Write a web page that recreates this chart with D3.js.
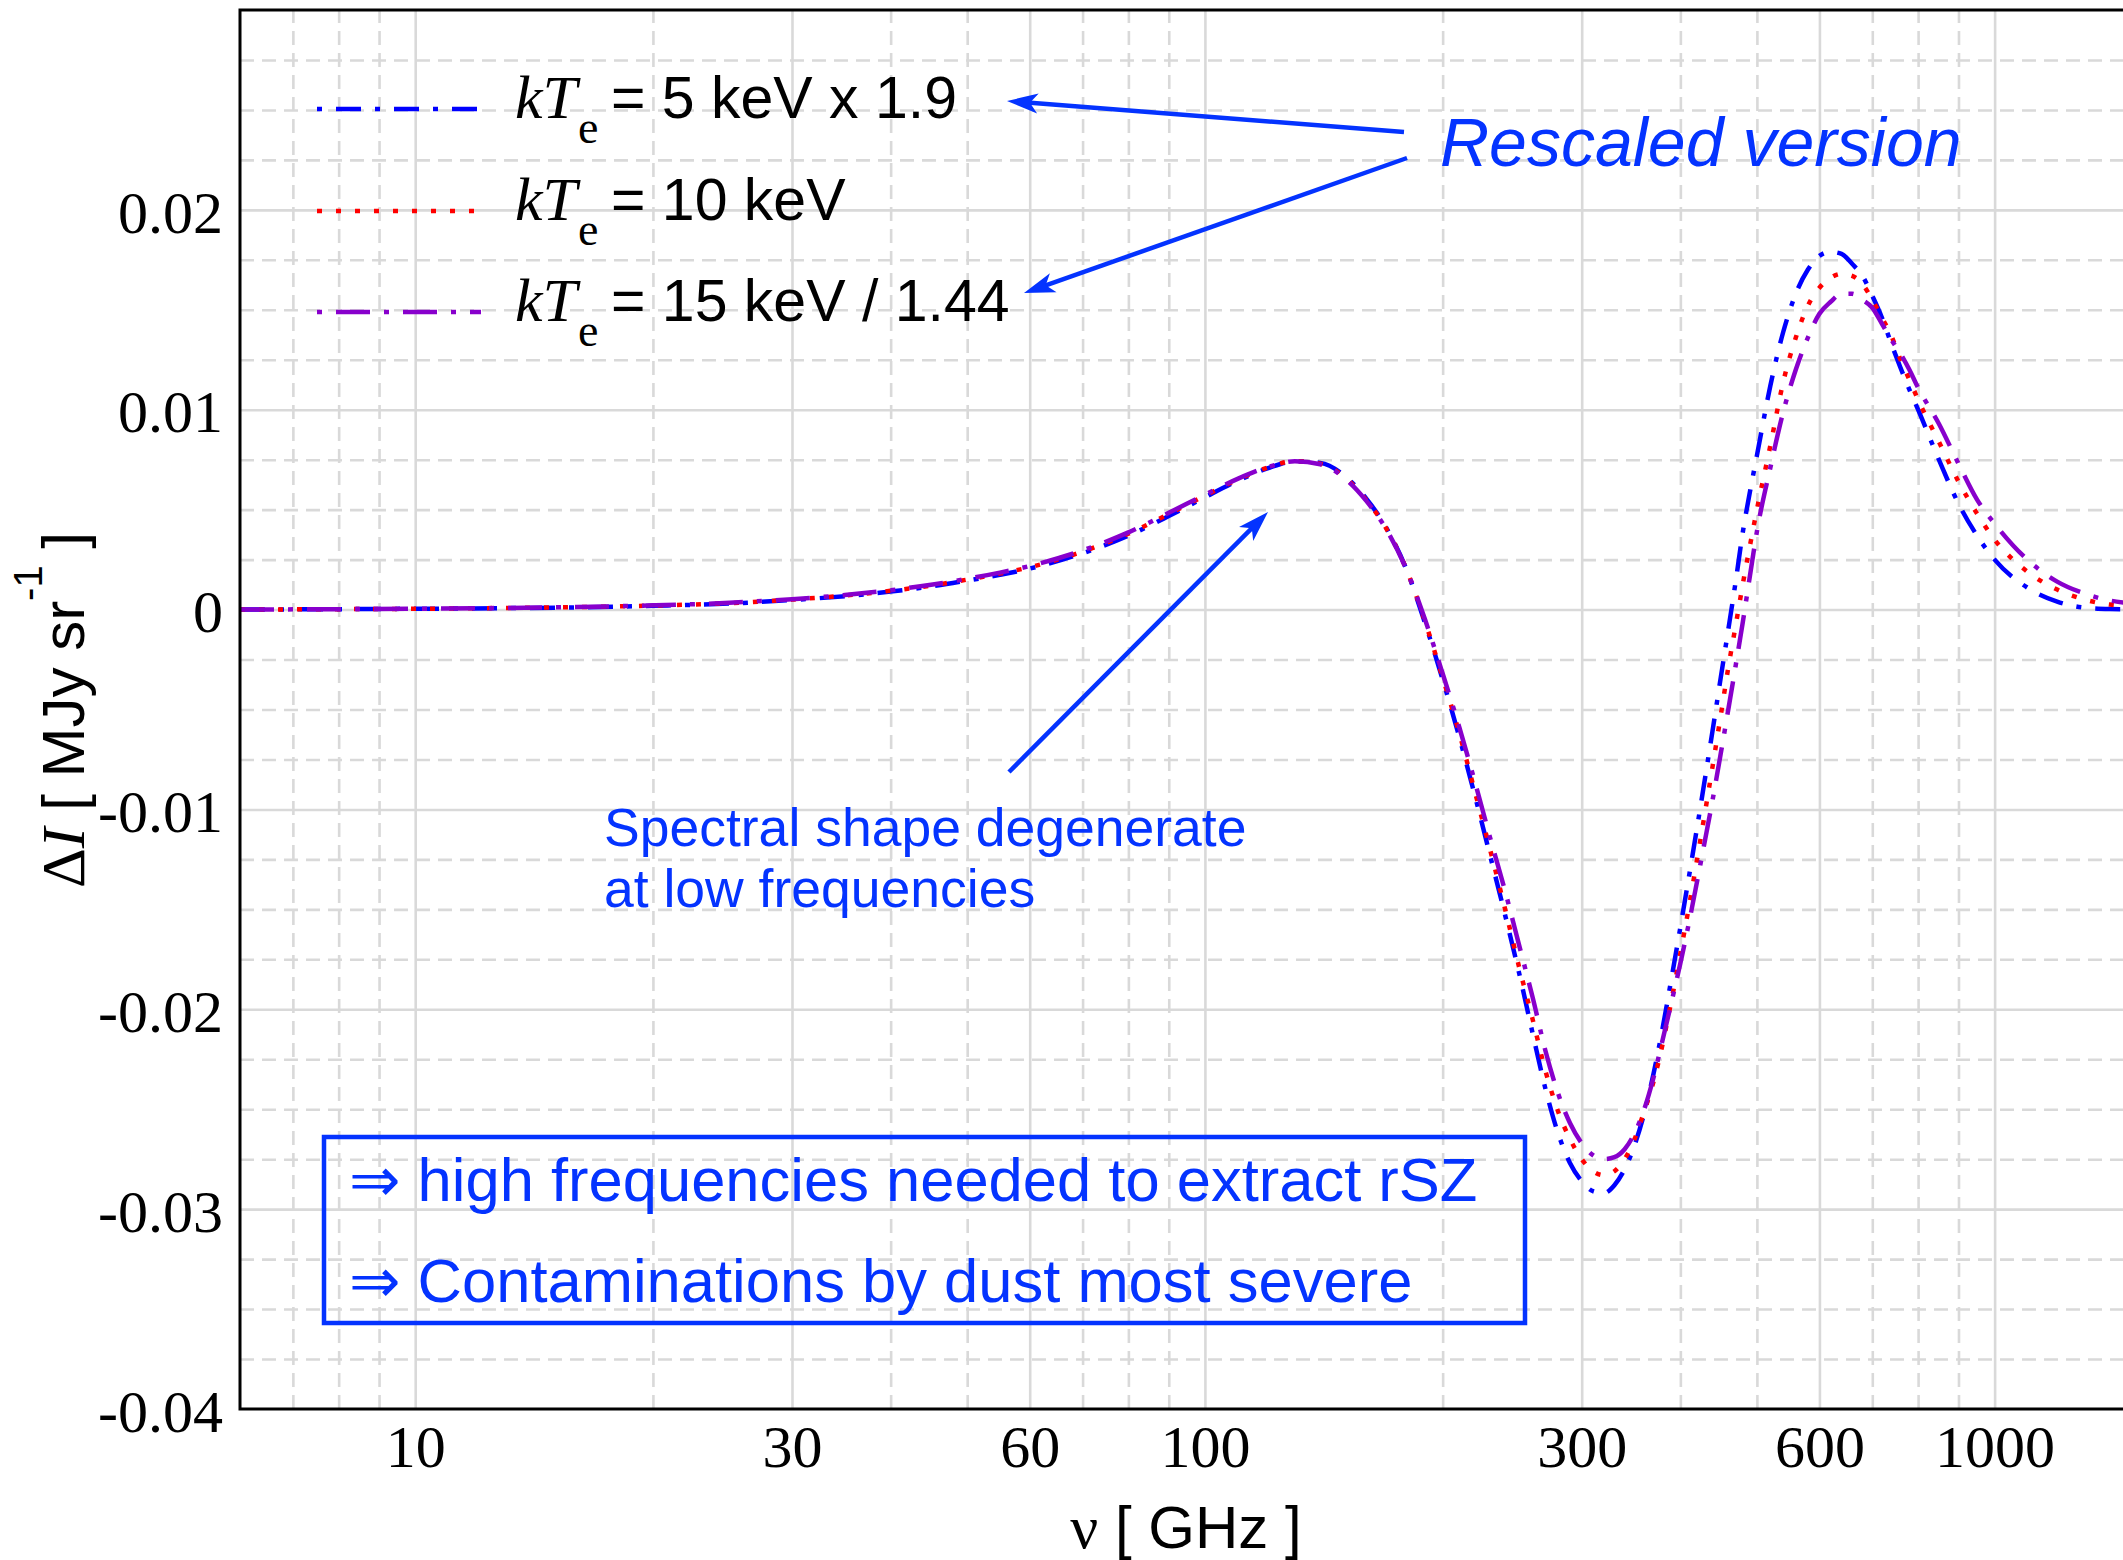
<!DOCTYPE html>
<html>
<head>
<meta charset="utf-8">
<script src="https://cdn.jsdelivr.net/npm/d3@7"></script>
<style>
	html,
	body {
		margin: 0;
		padding: 0;
		background: #fff;
	}
	svg {
		display: block;
	}
</style>
</head>
<body>
<div id="container"></div>
<script>
"use strict";

// frequency grid [GHz]
const freqGHz = [
	6, 8, 10, 13, 16, 20, 25, 30, 35, 40, 45, 50, 55, 60, 70, 80, 90, 100, 110,
	120, 130, 140, 150, 160, 170, 180, 190, 200, 210, 220, 230, 240, 250, 260,
	270, 280, 290, 300, 310, 320, 330, 340, 350, 360, 370, 380, 390, 400, 410,
	420, 430, 440, 450, 460, 470, 480, 490, 500, 520, 540, 560, 580, 600, 620,
	640, 660, 680, 700, 720, 740, 760, 780, 800, 850, 900, 950, 1000, 1100,
	1200, 1300, 1400, 1460,
];

// delta I [MJy/sr], kTe = 5 keV, rescaled x 1.9
const dI5keV = [
	0, 0.00002, 0.00004, 0.00007, 0.00011, 0.00019, 0.0003, 0.00048, 0.00067,
	0.0009, 0.00116, 0.00145, 0.00174, 0.00205, 0.00282, 0.0037, 0.00468,
	0.00562, 0.00644, 0.00706, 0.00742, 0.00734, 0.00672, 0.00556, 0.00404,
	0.002, -0.00068, -0.0035, -0.0064, -0.0094, -0.0124, -0.0153, -0.0182,
	-0.0212, -0.024, -0.0262, -0.0277, -0.0286, -0.0291, -0.0292, -0.0288,
	-0.028, -0.0268, -0.0252, -0.0232, -0.0209, -0.0184, -0.0159, -0.0134,
	-0.0109, -0.0084, -0.0059, -0.0034, -0.001, 0.0014, 0.0039, 0.0059, 0.0077,
	0.0112, 0.0139, 0.0158, 0.017, 0.0177, 0.0179, 0.0178, 0.0173, 0.0167,
	0.0157, 0.0146, 0.0133, 0.0121, 0.011, 0.01, 0.0075, 0.0053, 0.0037, 0.0025,
	0.0011, 0.0004, 0.0001, 0.00003, 0.00002,
];

// kTe = 10 keV
const dI10keV = [
	0, 0.00002, 0.00004, 0.00008, 0.00012, 0.0002, 0.00032, 0.0005, 0.0007,
	0.00094, 0.0012, 0.0015, 0.0018, 0.00212, 0.0029, 0.0038, 0.00478, 0.0057,
	0.0065, 0.0071, 0.00743, 0.0073, 0.00665, 0.0055, 0.004, 0.002, -0.0006,
	-0.0034, -0.0062, -0.0092, -0.0121, -0.015, -0.0179, -0.0205, -0.0231,
	-0.0251, -0.0265, -0.0275, -0.0281, -0.0283, -0.0281, -0.0275, -0.0265,
	-0.0251, -0.0236, -0.0217, -0.0195, -0.0172, -0.0149, -0.0125, -0.0101,
	-0.0077, -0.0053, -0.0029, -0.0008, 0.0013, 0.0032, 0.005, 0.0082, 0.0114,
	0.0136, 0.0152, 0.0161, 0.0166, 0.0168, 0.0167, 0.0163, 0.0155, 0.0146,
	0.0137, 0.0125, 0.0115, 0.0105, 0.0084, 0.0064, 0.0048, 0.0035, 0.0019,
	0.001, 0.0005, 0.00025, 0.0002,
];

// kTe = 15 keV, rescaled / 1.44
const dI15keV = [
	0, 0.00002, 0.00004, 0.00008, 0.00013, 0.00021, 0.00034, 0.00052, 0.00073,
	0.00097, 0.00124, 0.00154, 0.00185, 0.00218, 0.00296, 0.00386, 0.00484,
	0.00575, 0.00654, 0.00712, 0.00742, 0.00727, 0.0066, 0.00545, 0.00396,
	0.002, -0.0005, -0.0032, -0.0059, -0.0087, -0.0115, -0.0141, -0.0168,
	-0.0194, -0.0221, -0.0242, -0.0257, -0.0267, -0.0273, -0.0275, -0.0274,
	-0.027, -0.0262, -0.025, -0.0234, -0.0215, -0.0196, -0.0177, -0.0157,
	-0.0136, -0.0115, -0.0094, -0.0072, -0.005, -0.0028, -0.0006, 0.0017,
	0.0039, 0.0071, 0.0099, 0.012, 0.0136, 0.0148, 0.0154, 0.0158, 0.0158,
	0.0155, 0.0151, 0.0143, 0.0135, 0.0128, 0.012, 0.0111, 0.0093, 0.0073,
	0.0055, 0.0043, 0.0025, 0.0014, 0.0008, 0.00045, 0.00035,
];

const seriesValues = [dI5keV, dI10keV, dI15keV];
const seriesLabels = ["= 5 keV x 1.9", "= 10 keV", "= 15 keV / 1.44"];
const seriesColors = ["#0000ff", "#ff0000", "#8800cc"];
const seriesDash = ["25,14,5,14", "5,14", "34,14,5,14"];
// legend samples start on the dot
const legendDashOffset = [39, 0, 48];

// ticks + grid
const xTickValues = [10, 30, 60, 100, 300, 600, 1000];
const xMinorValues = [
	7, 8, 9, 20, 40, 50, 70, 80, 90, 200, 400, 500, 700, 800, 900,
];
const yTickValues = [-0.04, -0.03, -0.02, -0.01, 0, 0.01, 0.02];
const yTickLabels = ["-0.04", "-0.03", "-0.02", "-0.01", "0", "0.01", "0.02"];
const yMajorGrid = [-0.03, -0.02, -0.01, 0, 0.01, 0.02];

const annoBlue = "#0433ff";
const gridColor = "#d9d9d9";
const serif = "'Liberation Serif', 'Times New Roman', serif";
const sans = "'Liberation Sans', Arial, 'DejaVu Sans', sans-serif";

const W = 2123,
	H = 1560;
const plot = { left: 240, right: 2123, top: 10, bottom: 1409 };

const x = d3
	.scaleLog()
	.domain([6, 1454])
	.range([plot.left, plot.right]);
const y = d3
	.scaleLinear()
	.domain([-0.04, 0.03])
	.range([plot.bottom, plot.top]);

// minor y grid every 0.0025 that is not on a major line
const yMinorGrid = d3
	.range(-15, 12)
	.map((i) => i * 0.0025)
	.filter((v) => Math.abs(v * 100 - Math.round(v * 100)) > 1e-6);

const svg = d3
	.select("#container")
	.append("svg")
	.attr("width", W)
	.attr("height", H)
	.style("background", "#fff");

svg.append("defs")
	.append("clipPath")
	.attr("id", "plotClip")
	.append("rect")
	.attr("x", plot.left)
	.attr("y", plot.top)
	.attr("width", plot.right - plot.left)
	.attr("height", plot.bottom - plot.top);

svg.select("defs")
	.append("marker")
	.attr("id", "head")
	.attr("viewBox", "-32 -12 34 24")
	.attr("refX", 0)
	.attr("refY", 0)
	.attr("markerWidth", 34)
	.attr("markerHeight", 24)
	.attr("markerUnits", "userSpaceOnUse")
	.attr("orient", "auto")
	.append("path")
	.attr("d", "M0,0 L-31,-10 L-23,0 L-31,10 Z")
	.attr("fill", annoBlue);

// grid layers
const layerGrid = svg.append("g").attr("id", "grid");
const plotH = plot.bottom - plot.top;
const plotW = plot.right - plot.left;

function styleGrid(g, dashed) {
	g.select(".domain").remove();
	g.selectAll("line")
		.attr("stroke", gridColor)
		.attr("stroke-width", 2.6)
		.attr("stroke-dasharray", dashed ? "14,8" : null);
}

layerGrid
	.append("g")
	.attr("transform", `translate(0,${plot.bottom})`)
	.call(d3.axisBottom(x).tickValues(xMinorValues).tickSize(-plotH).tickFormat(""))
	.call((g) => styleGrid(g, true));
layerGrid
	.append("g")
	.attr("transform", `translate(${plot.left},0)`)
	.call(d3.axisLeft(y).tickValues(yMinorGrid).tickSize(-plotW).tickFormat(""))
	.call((g) => styleGrid(g, true));
layerGrid
	.append("g")
	.attr("transform", `translate(0,${plot.bottom})`)
	.call(d3.axisBottom(x).tickValues(xTickValues).tickSize(-plotH).tickFormat(""))
	.call((g) => styleGrid(g, false));
layerGrid
	.append("g")
	.attr("transform", `translate(${plot.left},0)`)
	.call(d3.axisLeft(y).tickValues(yMajorGrid).tickSize(-plotW).tickFormat(""))
	.call((g) => styleGrid(g, false));

// curves
const line = d3
	.line()
	.x((d) => x(d.f))
	.y((d) => y(d.v))
	.curve(d3.curveMonotoneX);

const layerCurves = svg
	.append("g")
	.attr("id", "curves")
	.attr("clip-path", "url(#plotClip)");

seriesValues.forEach((vals, i) => {
	const pts = freqGHz.map((f, j) => ({ f: f, v: vals[j] }));
	layerCurves
		.append("path")
		.datum(pts)
		.attr("d", line)
		.attr("fill", "none")
		.attr("stroke", seriesColors[i])
		.attr("stroke-width", 4.5)
		.attr("stroke-dasharray", seriesDash[i]);
});

// frame (no right edge, plot runs off the page)
svg.append("path")
	.attr(
		"d",
		`M${plot.right},${plot.top} H${plot.left} V${plot.bottom} H${plot.right}`
	)
	.attr("fill", "none")
	.attr("stroke", "#000")
	.attr("stroke-width", 3);

// tick labels
svg.append("g")
	.attr("transform", `translate(0,${plot.bottom})`)
	.call(
		d3
			.axisBottom(x)
			.tickValues(xTickValues)
			.tickSize(0)
			.tickPadding(15)
			.tickFormat(d3.format("d"))
	)
	.call((g) => g.select(".domain").remove())
	.selectAll("text")
	.attr("font-family", serif)
	.attr("font-size", 60)
	.attr("fill", "#000");

svg.append("g")
	.attr("transform", `translate(${plot.left},0)`)
	.call(
		d3
			.axisLeft(y)
			.tickValues(yTickValues)
			.tickSize(0)
			.tickPadding(17)
			.tickFormat((d, i) => yTickLabels[i])
	)
	.call((g) => g.select(".domain").remove())
	.selectAll("text")
	.attr("font-family", serif)
	.attr("font-size", 60)
	.attr("dy", "0.37em")
	.attr("fill", "#000");

// axis titles
const xTitle = svg
	.append("text")
	.attr("x", 1186)
	.attr("y", 1548)
	.attr("text-anchor", "middle")
	.attr("fill", "#000");
xTitle.append("tspan").attr("font-family", serif).attr("font-size", 62).text("ν");
xTitle.append("tspan").attr("font-family", sans).attr("font-size", 60).text(" [ GHz ]");

const yTitle = svg
	.append("text")
	.attr("transform", "translate(84,710) rotate(-90)")
	.attr("text-anchor", "middle")
	.attr("fill", "#000");
yTitle.append("tspan").attr("font-family", serif).attr("font-size", 62).text("Δ");
yTitle
	.append("tspan")
	.attr("font-family", serif)
	.attr("font-style", "italic")
	.attr("font-size", 62)
	.text("I");
yTitle.append("tspan").attr("font-family", sans).attr("font-size", 60).text(" [ MJy sr");
yTitle
	.append("tspan")
	.attr("font-family", sans)
	.attr("font-size", 40)
	.attr("dy", -42)
	.text("-1");
yTitle
	.append("tspan")
	.attr("font-family", sans)
	.attr("font-size", 60)
	.attr("dy", 42)
	.text(" ]");

// legend
const legendRowY = [118, 220, 321];
const layerLegend = svg.append("g").attr("id", "legend");
seriesLabels.forEach((label, i) => {
	const by = legendRowY[i];
	layerLegend
		.append("line")
		.attr("x1", 317)
		.attr("x2", 481)
		.attr("y1", by - 9)
		.attr("y2", by - 9)
		.attr("stroke", seriesColors[i])
		.attr("stroke-width", 4.5)
		.attr("stroke-dasharray", seriesDash[i])
		.attr("stroke-dashoffset", legendDashOffset[i]);
	layerLegend
		.append("text")
		.attr("x", 515)
		.attr("y", by)
		.attr("font-family", serif)
		.attr("font-style", "italic")
		.attr("font-size", 62)
		.text("kT");
	layerLegend
		.append("text")
		.attr("x", 578)
		.attr("y", by + 25)
		.attr("font-family", serif)
		.attr("font-size", 46)
		.text("e");
	layerLegend
		.append("text")
		.attr("x", 611)
		.attr("y", by)
		.attr("font-family", sans)
		.attr("font-size", 59)
		.text(label);
});

// annotations
function arrow(x1, y1, x2, y2) {
	// stop the shaft a little before the tip so it hides under the head
	const len = Math.hypot(x2 - x1, y2 - y1);
	const k = (len - 14) / len;
	svg.append("line")
		.attr("x1", x1)
		.attr("y1", y1)
		.attr("x2", x1 + (x2 - x1) * k)
		.attr("y2", y1 + (y2 - y1) * k)
		.attr("stroke", annoBlue)
		.attr("stroke-width", 4.5);
	svg.append("line")
		.attr("x1", x1 + (x2 - x1) * k)
		.attr("y1", y1 + (y2 - y1) * k)
		.attr("x2", x2)
		.attr("y2", y2)
		.attr("stroke", "none")
		.attr("marker-end", "url(#head)");
}

arrow(1404, 132, 1007, 101);
arrow(1407, 158, 1024, 293);
arrow(1009, 772, 1268, 512);

svg.append("text")
	.attr("x", 1440)
	.attr("y", 166)
	.attr("font-family", sans)
	.attr("font-style", "italic")
	.attr("font-size", 68)
	.attr("fill", annoBlue)
	.text("Rescaled version");

const note = svg
	.append("text")
	.attr("font-family", sans)
	.attr("font-size", 53.5)
	.attr("fill", annoBlue);
note.append("tspan").attr("x", 604).attr("y", 846).text("Spectral shape degenerate");
note.append("tspan").attr("x", 604).attr("y", 907).text("at low frequencies");

svg.append("rect")
	.attr("x", 324)
	.attr("y", 1137)
	.attr("width", 1201)
	.attr("height", 186)
	.attr("fill", "none")
	.attr("stroke", annoBlue)
	.attr("stroke-width", 4.5);

const boxText = svg
	.append("text")
	.attr("font-family", sans)
	.attr("font-size", 61.5)
	.attr("fill", annoBlue);
boxText.append("tspan").attr("x", 349).attr("y", 1201).text("⇒ high frequencies needed to extract rSZ");
boxText.append("tspan").attr("x", 349).attr("y", 1302).text("⇒ Contaminations by dust most severe");
</script>
</body>
</html>
